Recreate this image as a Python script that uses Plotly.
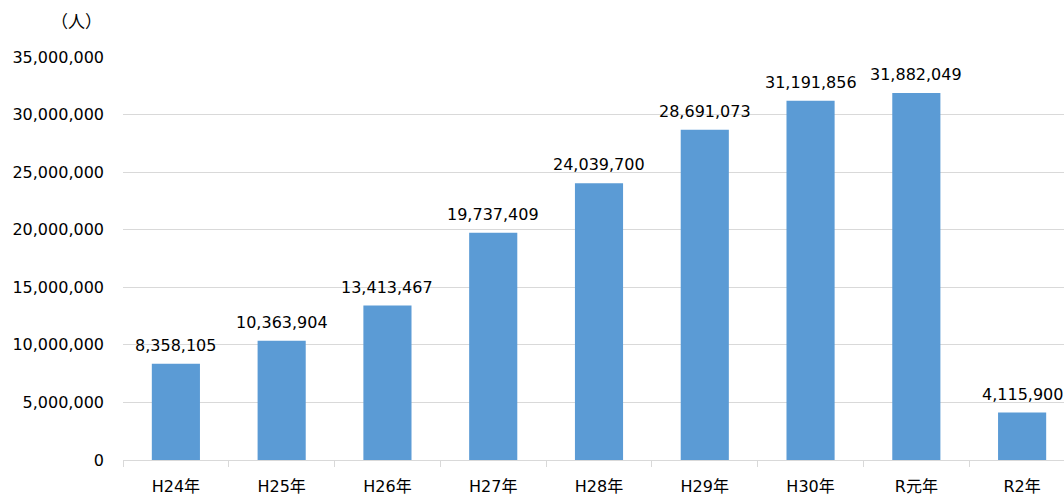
import plotly.graph_objects as go

# 年別の人数
years = ["H24年", "H25年", "H26年", "H27年", "H28年", "H29年", "H30年", "R元年", "R2年"]
people = [8358105, 10363904, 13413467, 19737409, 24039700, 28691073, 31191856, 31882049, 4115900]

y_ticks = [0, 5000000, 10000000, 15000000, 20000000, 25000000, 30000000, 35000000]

FONT = "DejaVu Sans, Noto Sans CJK JP, sans-serif"

fig = go.Figure(
    go.Bar(
        x=years,
        y=people,
        marker=dict(color="#5B9BD5", line=dict(width=0)),
        cliponaxis=False,
    )
)

# 値ラベル（棒の上に少し間隔をあけて表示）
value_labels = [
    dict(
        x=yr,
        y=v,
        xref="x",
        yref="y",
        text=f"{v:,}",
        showarrow=False,
        xanchor="center",
        yanchor="bottom",
        yshift=7,
        font=dict(size=16, color="#000000", family=FONT),
    )
    for yr, v in zip(years, people)
]

unit_label = dict(
    text="（人）",
    xref="paper",
    yref="paper",
    x=-0.02,
    y=1.0,
    yshift=37,
    xanchor="right",
    yanchor="middle",
    showarrow=False,
    font=dict(size=17, family="Noto Sans CJK JP, sans-serif"),
)

fig.update_layout(
    width=1064,
    height=497,
    margin=dict(l=123, r=0, t=57, b=37),
    paper_bgcolor="white",
    plot_bgcolor="white",
    bargap=0.545,
    showlegend=False,
    font=dict(family=FONT, size=16, color="#000000"),
    xaxis=dict(
        type="category",
        range=[-0.5, 8.396],
        tickson="boundaries",
        ticks="outside",
        ticklen=6,
        tickcolor="#d9d9d9",
        showline=True,
        linecolor="#d9d9d9",
        linewidth=1,
        showgrid=False,
        ticklabelstandoff=12,
        tickfont=dict(size=16, family=FONT),
    ),
    yaxis=dict(
        range=[0, 35000000],
        tickvals=y_ticks,
        ticktext=[f"{v:,}" for v in y_ticks],
        showgrid=True,
        gridcolor="#d9d9d9",
        gridwidth=1,
        zeroline=False,
        ticks="",
        ticklabelstandoff=18,
        tickfont=dict(size=16, family=FONT),
    ),
    annotations=value_labels + [unit_label],
)

fig.write_html("out.html")
